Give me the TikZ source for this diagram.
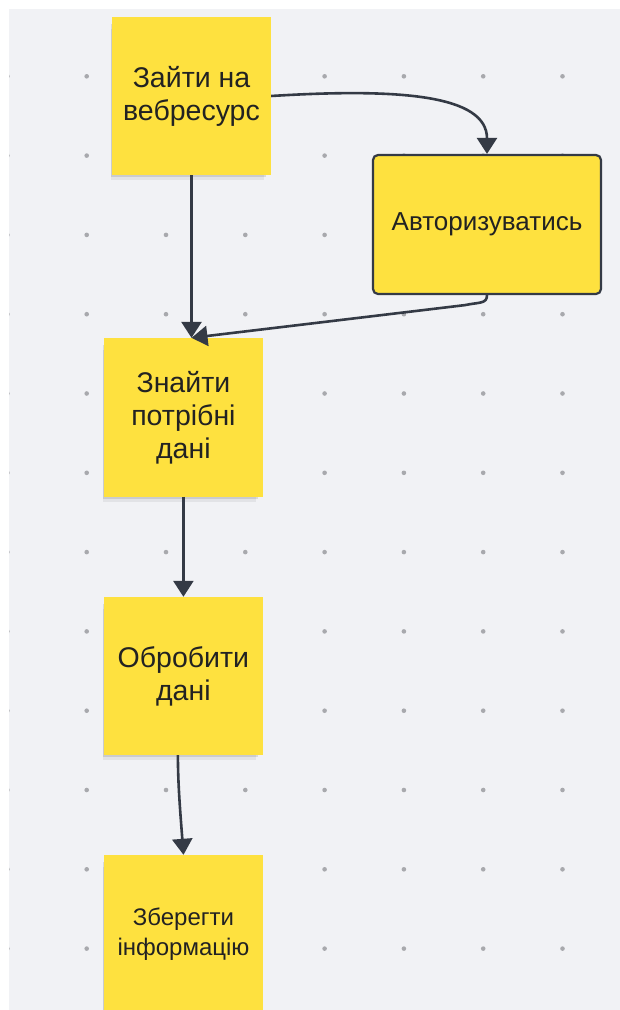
\documentclass[tikz,border=0pt]{standalone}
\usepackage{fontspec}
\setmainfont{Liberation Sans}
\usetikzlibrary{arrows.meta,shadows}
\definecolor{bgc}{HTML}{F1F2F5}
\definecolor{dotc}{HTML}{A8A9AD}
\definecolor{sticky}{HTML}{FEE13F}
\definecolor{linec}{HTML}{343A45}
\definecolor{txt}{HTML}{222222}
\begin{document}
\begin{tikzpicture}[x=1pt,y=-1pt,
  note/.style={fill=sticky, minimum width=159pt, minimum height=158pt, inner sep=0pt,
    align=center, text=txt,
    general shadow={fill=black, opacity=0.06, shadow xshift=-4pt, shadow yshift=-9pt, shadow scale=0.96},
    general shadow={fill=black, opacity=0.10, shadow xshift=-3pt, shadow yshift=-5pt, shadow scale=0.97}},
  authbox/.style={fill=sticky, draw=linec, line width=2.2pt, rounded corners=5pt,
    minimum width=228pt, minimum height=139pt, inner sep=0pt, align=center, text=txt,
    font=\fontsize{26}{32}\selectfont},
  conn/.style={draw=linec, line width=2.6pt, -{Triangle[width=20pt,length=16pt]}},
  bigtxt/.style={font=\fontsize{28.5}{33}\selectfont},
  smalltxt/.style={font=\fontsize{24}{30}\selectfont}
]
\useasboundingbox (0,0) rectangle (620,1010);
\fill[bgc] (9,9) rectangle (620,1010);
\begin{scope}
  \clip (9,9) rectangle (620,1010);
  \foreach \i in {0,...,7}
    \foreach \j in {0,...,11}
      \fill[dotc] ({7.4+79.3*\i},{76.3+79.3*\j}) circle (2.3pt);
\end{scope}

\node[note, bigtxt] (n1) at (191.5,96) {Зайти на\\вебресурс};
\node[authbox] (auth) at (487,224.5) {Авторизуватись};
\node[note, bigtxt, minimum height=158.7pt] (n3) at (183.4,417.4) {Знайти\\потрібні\\дані};
\node[note, bigtxt] (n4) at (183.4,676) {Обробити\\дані};
\node[note, smalltxt, minimum height=159pt] (n5) at (183.5,934.5) {Зберегти\\інформацію};

\draw[conn] (n1.east) .. controls (400,88) and (487,95) .. (auth.north);
\draw[conn] (n1.south) -- (n1.south |- n3.north);
\draw[conn] (auth.south) .. controls +(0,9) and +(14,-3) .. ++(-22,10) -- (n1.south |- n3.north);
\draw[conn] (n3.south) -- (n4.north);
\draw[conn] ([xshift=-5.5pt]n4.south) .. controls +(0,30) and +(-3,-40) .. (n5.north);
\end{tikzpicture}
\end{document}
